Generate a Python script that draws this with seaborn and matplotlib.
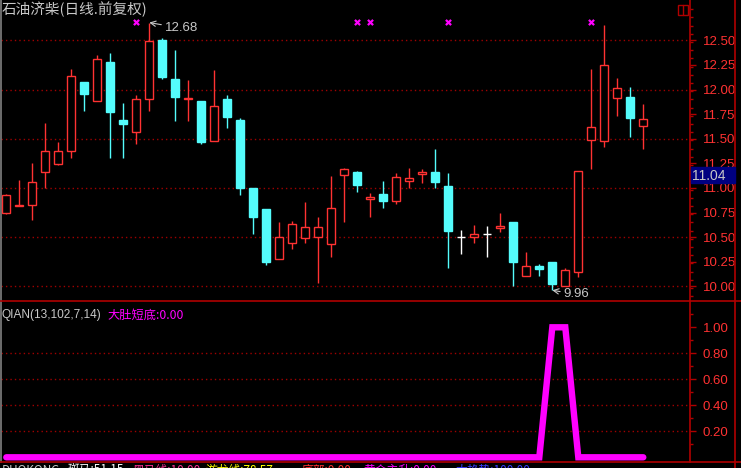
import numpy as np
import pandas as pd
import matplotlib
matplotlib.use("Agg")
import matplotlib.pyplot as plt
import matplotlib.patches as mpatches
import matplotlib.transforms as mtransforms
from matplotlib.lines import Line2D
import seaborn as sns

# -- Data --
opens = [10.74, 10.82, 10.83, 11.16, 11.24, 11.38, 12.08, 11.88, 12.28, 11.69,
         11.57, 11.90, 12.50, 12.11, 11.90, 11.88, 11.48, 11.90, 11.69, 11.00,
         10.79, 10.28, 10.44, 10.49, 10.50, 10.43, 11.13, 11.16, 10.89, 10.94,
         10.87, 11.07, 11.14, 11.16, 11.02, 10.50, 10.50, 10.53, 10.59, 10.65,
         10.10, 10.21, 10.25, 10.00, 10.15, 11.49, 11.48, 11.91, 11.92, 11.63]
closes = [10.93, 10.83, 11.06, 11.38, 11.38, 12.14, 11.95, 12.31, 11.77, 11.65,
          11.90, 12.49, 12.13, 11.92, 11.91, 11.47, 11.83, 11.72, 11.00, 10.70,
          10.25, 10.50, 10.63, 10.60, 10.60, 10.80, 11.19, 11.03, 10.91, 10.87,
          11.11, 11.10, 11.16, 11.06, 10.56, 10.50, 10.53, 10.53, 10.61, 10.25,
          10.21, 10.18, 10.02, 10.17, 11.17, 11.62, 12.25, 12.02, 11.71, 11.70]
highs = [10.94, 11.08, 11.25, 11.66, 11.47, 12.21, 12.08, 12.35, 12.37, 11.86,
         11.94, 12.68, 12.52, 12.40, 12.10, 11.88, 12.20, 11.94, 11.71, 11.00,
         10.79, 10.65, 10.66, 10.86, 10.70, 11.12, 11.20, 11.17, 10.95, 11.07,
         11.15, 11.20, 11.19, 11.40, 11.15, 10.57, 10.62, 10.61, 10.74, 10.65,
         10.35, 10.23, 10.25, 10.19, 11.17, 12.21, 12.66, 12.12, 12.03, 11.85]
lows = [10.73, 10.82, 10.67, 11.00, 11.23, 11.30, 11.78, 11.88, 11.30, 11.30,
        11.45, 11.78, 12.11, 11.68, 11.68, 11.45, 11.48, 11.61, 10.93, 10.53,
        10.22, 10.28, 10.38, 10.44, 10.03, 10.30, 10.65, 10.96, 10.70, 10.80,
        10.84, 11.00, 11.05, 11.00, 10.19, 10.33, 10.44, 10.30, 10.55, 10.00,
        10.10, 10.10, 9.96, 10.00, 10.09, 11.19, 11.42, 11.73, 11.52, 11.40]
# indicator QIAN (大肚短底)
qian = [0] * 42 + [1, 1] + [0] * 6
# bars flagged with magenta crosses on the top of the price panel
signal_bars = [10, 27, 28, 34, 45]

price_ticks = [12.50, 12.25, 12.00, 11.75, 11.50, 11.25, 11.00, 10.75, 10.50, 10.25, 10.00]
price_grid = [12.5, 12.0, 11.5, 11.0, 10.5, 10.0]
qian_ticks = [0.2, 0.4, 0.6, 0.8, 1.0]
last_price = "11.04"

RED = "#FF3232"
CYAN = "#54FCFC"
FRAME = "#B00000"
GRID = "#A00000"
TEXT = "#C8C8C8"
MAGENTA = "#FF00FF"
CJK = ["Noto Sans CJK SC", "DejaVu Sans"]

W, H = 741, 468


def fx(px):
    return px / W


def fy(py):
    return 1 - py / H


def main():
    sns.set_theme(style="dark", rc={"axes.facecolor": "black", "figure.facecolor": "black"})
    plt.rcParams["font.family"] = ["Liberation Sans", "Noto Sans CJK SC", "DejaVu Sans"]

    df = pd.DataFrame({"open": opens, "close": closes, "high": highs, "low": lows, "qian": qian})
    df["idx"] = np.arange(len(df))

    fig = plt.figure(figsize=(W / 100, H / 100), dpi=100)
    ax = fig.add_axes([fx(1), fy(301), fx(689), 301 / H])
    ax2 = fig.add_axes([fx(1), fy(462), fx(689), 161 / H])
    xlim = ((1 - 6.3) / 13, (690 - 6.3) / 13)

    # -- candles --
    colors = []
    for o, c in zip(df["open"], df["close"]):
        colors.append(RED if c > o else (CYAN if c < o else "white"))
    ax.vlines(df["idx"], df["low"], df["high"], colors=colors, linewidth=1.0, zorder=2)
    bottom = np.minimum(df["open"], df["close"])
    height = np.abs(df["close"] - df["open"])
    face = ["black" if col == RED else col for col in colors]
    ax.bar(df["idx"], height, bottom=bottom, width=0.64, color=face,
           edgecolor=colors, linewidth=1.0, zorder=3)

    for g in price_grid:
        ax.axhline(g, color=GRID, linewidth=1.0, linestyle=(0, (1, 2.2)), zorder=1)

    ax.set_xlim(*xlim)
    ax.set_ylim(12.5 - 260.7 / 98.4, 12.5 + 40.3 / 98.4)

    # extreme labels
    ax.annotate("12.68", xy=(11, 12.68), xytext=(11, -4), textcoords="offset points",
                color=TEXT, fontsize=9.5, va="center", ha="left",
                arrowprops=dict(arrowstyle="->", color=TEXT, linewidth=0.8,
                                shrinkA=0, shrinkB=0))
    ax.annotate("9.96", xy=(42, 9.96), xytext=(8, -3), textcoords="offset points",
                color=TEXT, fontsize=9.5, va="center", ha="left",
                arrowprops=dict(arrowstyle="->", color=TEXT, linewidth=0.8,
                                shrinkA=0, shrinkB=0))

    # top signal crosses
    trans = mtransforms.blended_transform_factory(ax.transData, ax.transAxes)
    ax.scatter(signal_bars, [0.926] * len(signal_bars), marker="x", s=14,
               color=MAGENTA, linewidths=1.6, transform=trans, zorder=4)

    # -- indicator panel --
    sns.lineplot(data=df, x="idx", y="qian", ax=ax2, color=MAGENTA, linewidth=4.6,
                 solid_capstyle="round", solid_joinstyle="miter", zorder=3)
    ax2.set_xlim(*xlim)
    ax2.set_ylim(-4.7 / 130, (457.3 - 301) / 130)
    for g in [0.2, 0.4, 0.6, 0.8]:
        ax2.axhline(g, color=GRID, linewidth=1.0, linestyle=(0, (1, 2.2)), zorder=1)

    # -- axes styling --
    for a, major, minor in [(ax, price_ticks, np.arange(9.9, 12.9, 0.25 / 3)),
                            (ax2, qian_ticks, np.arange(0.1, 1.15, 0.1))]:
        a.set_xlabel("")
        a.set_ylabel("")
        a.set_xticks([])
        a.yaxis.tick_right()
        a.set_yticks(major)
        a.set_yticklabels([f"{v:.2f}" for v in major])
        a.set_yticks(minor, minor=True)
        a.tick_params(axis="y", which="major", length=4.5, width=1, color=FRAME,
                      labelcolor=RED, labelsize=9.5, pad=4.5, right=True, left=False)
        a.tick_params(axis="y", which="minor", length=2.2, width=1, color=FRAME,
                      right=True, left=False)
        a.grid(False)
        for side in ["top", "bottom"]:
            a.spines[side].set_visible(False)
        a.spines["right"].set_color(FRAME)
        a.spines["right"].set_linewidth(1.2)
        a.spines["left"].set_color("#808080")
        a.spines["left"].set_linewidth(1.2)

    # last-price box on the price scale
    fig.add_artist(mpatches.Rectangle((fx(691), fy(183)), fx(44), 16 / H,
                                      facecolor="#000080", edgecolor="#000080", zorder=5))
    fig.text(fx(692), fy(175.5), last_price, color=TEXT, fontsize=10, va="center",
             ha="left", zorder=6)

    # -- frame lines --
    for py in [301, 462]:
        fig.add_artist(Line2D([0, 1], [fy(py), fy(py)], color=FRAME, linewidth=1.2))
    fig.add_artist(Line2D([fx(735), fx(735)], [0, 1], color=FRAME, linewidth=1.2))
    fig.add_artist(mpatches.Rectangle((fx(678), fy(15)), fx(10), 10 / H, fill=False,
                                      edgecolor=FRAME, linewidth=1.0))
    fig.add_artist(Line2D([fx(683), fx(683)], [fy(15), fy(5)], color=FRAME, linewidth=1.0))

    # -- texts --
    fig.text(fx(2), fy(9.5), "石油济柴(日线.前复权)", color=TEXT, fontsize=10.5,
             va="center", ha="left", family=CJK)
    fig.text(fx(2), fy(315), "QIAN(13,102,7,14)", color=TEXT, fontsize=8.6,
             va="center", ha="left")
    fig.text(fx(107), fy(315), "大肚短底:0.00", color=MAGENTA, fontsize=8.8,
             va="center", ha="left", family=CJK)
    footer = [(2, "DUOKONG", TEXT), (68, "斑马:51.15", "white"),
              (132, "黑马线:10.00", "#FF3296"), (206, "游龙线:78.57", "#FFFF00"),
              (302, "底部:0.00", RED), (363, "黄金主升:0.00", MAGENTA),
              (455, "大趋势:100.00", "#3C3CFF")]
    for px, label, col in footer:
        fig.text(fx(px), fy(463.5), label, color=col, fontsize=8.5, va="top", ha="left",
                 family=CJK)

    fig.savefig("out.png", dpi=100, facecolor="black")
    plt.close()


if __name__ == "__main__":
    main()
